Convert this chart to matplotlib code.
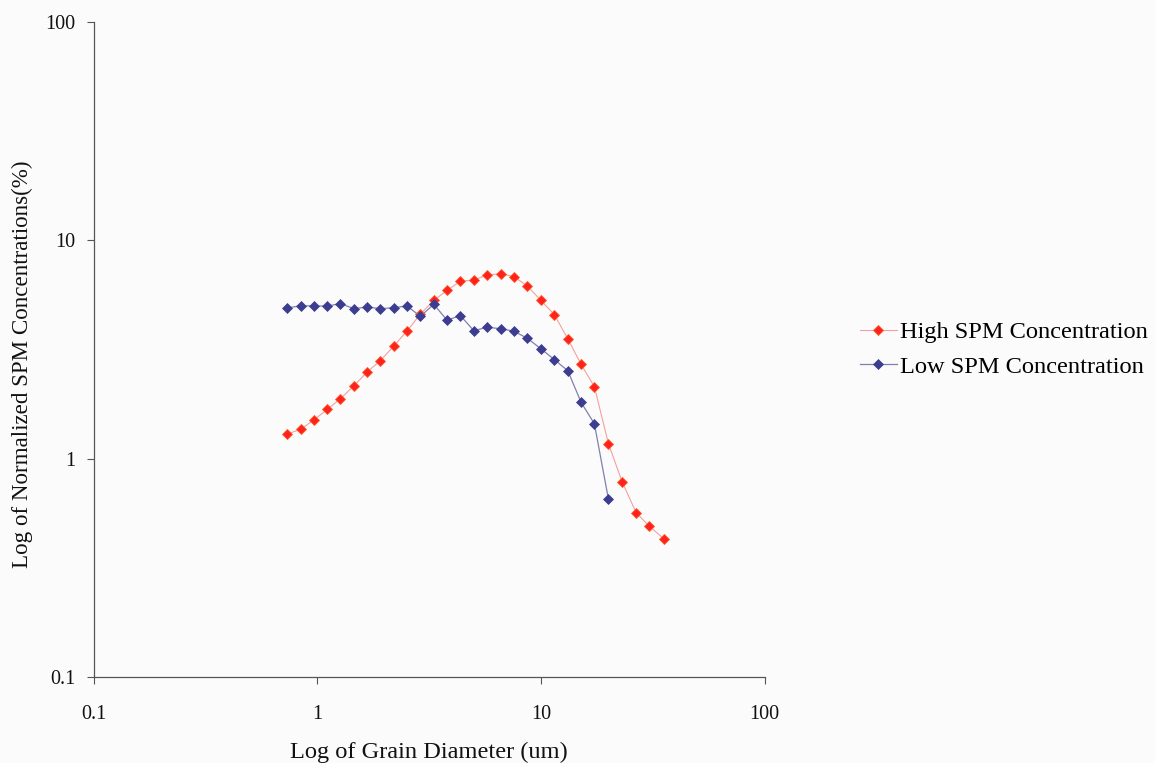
import matplotlib
matplotlib.use("Agg")
import matplotlib.pyplot as plt
from matplotlib.ticker import FixedLocator, FixedFormatter, NullLocator

# Grain size classes (um)
diameter = [0.735, 0.844, 0.965, 1.110, 1.269, 1.461, 1.670, 1.915, 2.199, 2.521,
            2.892, 3.319, 3.806, 4.364, 5.009, 5.744, 6.614, 7.586, 8.700, 9.986,
            11.49, 13.19, 15.12, 17.34, 20.03, 23.06, 26.64, 30.54, 35.43]

# Normalized SPM concentration (%)
high_spm = [1.297, 1.363, 1.503, 1.683, 1.882, 2.159, 2.494, 2.810, 3.281, 3.843,
            4.598, 5.303, 5.903, 6.491, 6.581, 6.937, 7.034, 6.813, 6.177, 5.313,
            4.564, 3.533, 2.705, 2.134, 1.173, 0.784, 0.566, 0.490, 0.430]
low_spm = [4.899, 5.019, 5.003, 5.003, 5.127, 4.863, 4.951, 4.863, 4.914, 5.003,
           4.487, 5.093, 4.307, 4.525, 3.856, 3.997, 3.938, 3.831, 3.558, 3.189,
           2.840, 2.526, 1.812, 1.444, 0.654]

tick_vals = [0.1, 1, 10, 100]
tick_text = ["0.1", "1", "10", "100"]

plt.rcParams["font.family"] = ["Liberation Serif", "DejaVu Serif"]

bg = "#fbfbfb"
fig = plt.figure(figsize=(11.55, 7.63), dpi=100, facecolor=bg)
ax = fig.add_axes([0.081, 0.1127, 0.581, 0.8585], facecolor=bg)

ax.plot(diameter, high_spm, color="#f4a0a0", lw=0.8, marker="D", ms=5,
        mfc="#ff2020", mec="#ff5a20", mew=0.6, label="High SPM Concentration")
ax.plot(diameter[:len(low_spm)], low_spm, color="#8080b0", lw=0.9, marker="D", ms=5,
        mfc="#3c3c90", mec="#3c3c90", mew=0.5, label="Low SPM Concentration")

ax.set_xscale("log")
ax.set_yscale("log")
ax.set_xlim(0.1, 100)
ax.set_ylim(0.1, 100)

for axis in (ax.xaxis, ax.yaxis):
    axis.set_major_locator(FixedLocator(tick_vals))
    axis.set_major_formatter(FixedFormatter(tick_text))
    axis.set_minor_locator(NullLocator())

ax.spines["top"].set_visible(False)
ax.spines["right"].set_visible(False)
for s in ("left", "bottom"):
    ax.spines[s].set_color("#555555")
    ax.spines[s].set_linewidth(0.9)
ax.tick_params(axis="both", direction="out", length=5, width=0.8, color="#555555",
               labelsize=14.5, labelcolor="#111111")
ax.tick_params(axis="x", pad=15)
ax.tick_params(axis="y", pad=8)

ax.set_xlabel("Log of Grain Diameter (um)", fontsize=17.6, labelpad=13, color="#111111")
ax.set_ylabel("Log of Normalized SPM Concentrations(%)", fontsize=16.6, color="#111111",
              va="center")
ax.yaxis.set_label_coords(-0.106, 0.478)

leg = ax.legend(loc="center left", bbox_to_anchor=(1.142, 0.50), frameon=False,
                fontsize=17.6, handlelength=1.5, handletextpad=0.15, labelspacing=0.5,
                borderpad=0, borderaxespad=0)

fig.savefig("out.png", dpi=100, facecolor=bg)
